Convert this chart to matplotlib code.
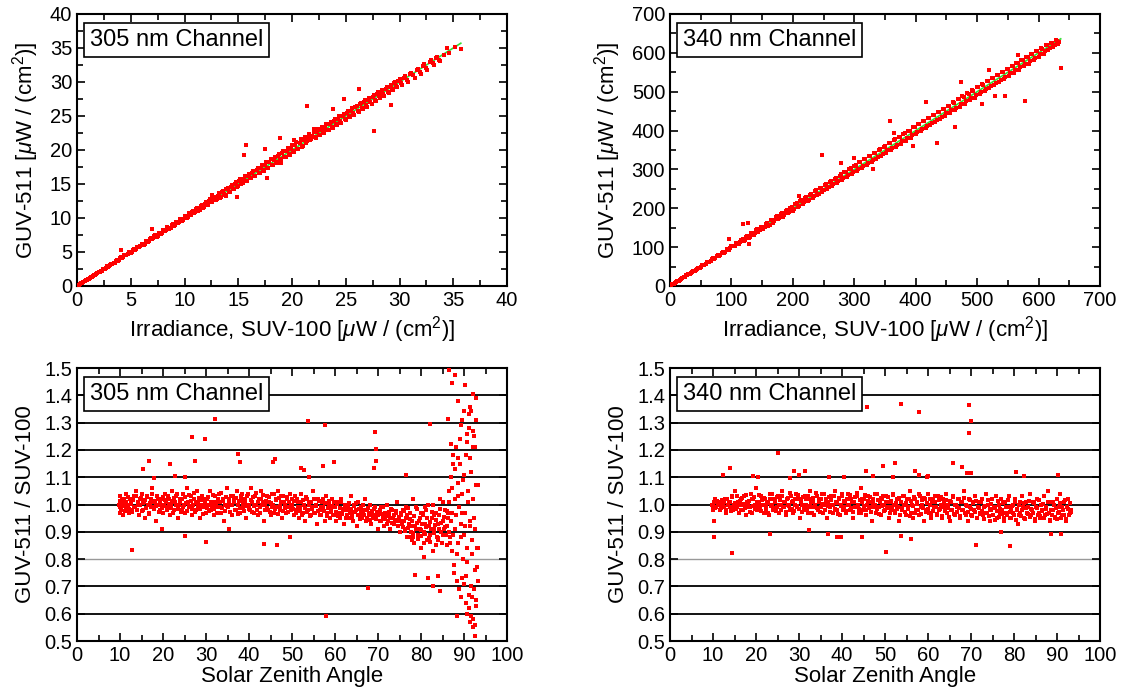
import numpy as np
import matplotlib
matplotlib.use("Agg")
import matplotlib.pyplot as plt
from matplotlib.ticker import MultipleLocator, FormatStrFormatter

plt.rcParams['font.family'] = ['Liberation Sans', 'DejaVu Sans']
plt.rcParams['mathtext.fontset'] = 'custom'
plt.rcParams['mathtext.rm'] = 'Liberation Sans'
plt.rcParams['mathtext.it'] = 'Liberation Sans:italic'

# ---- scatter, 305 nm: (SUV-100, GUV-511) irradiance ----
irr_305 = [(0.1, 0.1), (0.3, 0.3), (0.5, 0.5), (0.7, 0.7), (0.9, 0.9), (1.1, 1.1), (1.3, 1.35), (1.5, 1.5),
           (1.7, 1.65), (1.9, 1.95), (2.1, 2.1), (2.3, 2.25), (2.5, 2.55), (2.7, 2.7), (2.9, 2.85), (3.1, 3.15),
           (3.3, 3.3), (3.5, 3.45), (3.7, 3.8), (3.9, 3.85), (4.1, 4.2), (4.3, 4.25), (4.5, 4.6), (4.7, 4.65),
           (4.9, 5.0), (5.1, 5.05), (5.3, 5.4), (5.5, 5.45), (5.7, 5.8), (5.9, 5.85), (6.1, 6.2), (6.3, 6.2),
           (6.5, 6.6), (6.7, 6.65), (6.9, 7.0), (7.1, 7.0), (7.3, 7.45), (7.5, 7.4), (7.7, 7.8), (7.9, 7.75),
           (8.1, 8.25), (8.3, 8.2), (8.5, 8.6), (8.7, 8.6), (8.9, 9.05), (9.1, 8.95), (9.3, 9.45), (9.5, 9.35),
           (9.7, 9.8), (9.9, 9.7), (10.1, 10.3), (10.3, 10.1), (10.5, 10.6), (10.7, 10.9), (10.9, 10.7),
           (11.1, 11.3), (11.3, 11.1), (11.5, 11.7), (11.7, 11.5), (11.9, 12.1), (12.1, 11.9), (12.3, 12.5),
           (12.5, 12.3), (12.7, 12.9), (12.9, 12.6), (13.1, 13.3), (13.3, 13.0), (13.5, 13.8), (13.7, 13.5),
           (13.9, 14.2), (14.1, 13.8), (14.3, 14.5), (14.5, 14.3), (14.7, 15.0), (14.9, 14.6), (15.1, 15.4),
           (15.3, 15.0), (15.5, 15.8), (15.7, 15.4), (15.9, 16.2), (16.1, 15.9), (16.3, 16.6), (16.5, 16.2),
           (16.7, 17.0), (16.9, 16.6), (17.1, 17.4), (17.3, 17.1), (17.5, 17.8), (17.7, 17.4), (17.9, 18.3),
           (18.1, 17.8), (18.3, 18.6), (18.5, 18.2), (18.7, 19.1), (18.9, 18.7), (19.1, 19.5), (19.3, 19.0),
           (19.5, 19.9), (19.7, 19.4), (19.9, 20.2), (20.1, 19.8), (20.3, 20.7), (20.5, 20.2), (20.7, 21.1),
           (20.9, 20.5), (21.1, 21.4), (21.3, 21.0), (21.5, 21.9), (21.7, 21.4), (21.9, 22.1), (22.1, 21.9),
           (22.3, 22.6), (22.5, 22.2), (22.7, 23.0), (22.9, 22.6), (23.1, 23.3), (23.3, 23.0), (23.5, 23.8),
           (23.7, 23.4), (23.9, 24.3), (24.1, 23.8), (24.3, 24.6), (24.5, 24.2), (24.7, 25.0), (24.9, 24.6),
           (25.1, 25.4), (25.3, 25.0), (25.5, 25.8), (25.7, 25.5), (25.9, 26.3), (26.1, 25.8), (26.3, 26.7),
           (26.5, 26.2), (26.7, 27.0), (26.9, 26.6), (27.1, 27.4), (27.3, 27.0), (27.5, 27.8), (27.7, 27.4),
           (27.9, 28.2), (28.1, 27.9), (28.3, 28.5), (28.5, 28.2), (28.7, 28.9), (28.9, 28.6), (29.1, 29.3),
           (29.3, 29.0), (29.5, 29.8), (29.7, 29.4), (29.9, 30.2), (30.1, 29.9), (30.4, 30.6), (30.7, 30.3),
           (31.0, 31.2), (31.3, 31.0), (31.6, 31.8), (31.9, 31.5), (32.2, 32.3), (32.5, 32.1), (32.8, 33.0),
           (33.1, 32.8), (33.4, 33.5), (33.7, 33.2),
           (0.2, 0.18), (0.4, 0.43), (0.6, 0.58), (0.8, 0.83), (1.0, 0.97), (1.2, 1.24), (1.4, 1.38), (1.6, 1.66),
           (1.8, 1.77), (2.0, 2.06), (2.2, 2.17), (2.4, 2.46), (2.6, 2.55), (2.8, 2.87), (3.0, 2.94), (3.2, 3.28),
           (3.4, 3.36), (3.6, 3.71), (3.8, 3.73), (4.0, 4.12), (4.2, 4.14), (4.4, 4.52), (4.6, 4.55), (4.8, 4.93),
           (5.0, 4.92), (5.2, 5.35), (5.4, 5.31), (5.6, 5.74), (5.8, 5.72), (6.0, 6.16), (6.2, 6.08), (6.4, 6.57),
           (6.6, 6.51), (6.8, 6.97), (7.0, 6.88), (7.2, 7.38), (7.4, 7.27), (7.6, 7.79), (7.8, 7.66), (8.0, 8.21),
           (8.2, 8.06), (8.4, 8.63), (8.6, 8.45), (8.8, 9.04), (9.0, 8.86), (9.2, 9.42), (9.4, 9.24), (9.6, 9.88),
           (9.8, 9.61), (10.0, 10.27), (10.2, 10.02), (10.4, 10.71), (10.6, 10.38), (10.8, 11.08), (11.0, 10.81),
           (11.2, 11.52), (11.4, 11.16), (11.6, 11.93), (11.8, 11.57), (12.0, 12.36), (12.2, 11.98), (12.4, 12.74),
           (12.6, 12.31), (12.8, 13.14), (13.0, 12.72), (13.2, 13.61), (13.4, 13.12), (13.6, 13.95), (13.8, 13.44),
           (14.0, 14.42), (14.2, 13.86), (14.4, 14.84), (14.6, 14.22), (14.8, 15.27), (15.0, 14.67), (15.2, 15.71),
           (15.4, 15.08), (15.6, 16.12), (15.8, 15.44), (16.0, 16.51), (16.2, 15.82), (16.4, 16.93), (16.6, 16.23),
           (16.8, 17.36), (17.0, 16.58), (17.2, 17.82), (17.4, 16.94), (17.6, 18.19), (17.8, 17.36), (18.0, 18.63),
           (18.2, 17.74), (18.4, 19.02), (18.6, 18.13), (18.8, 19.44), (19.0, 18.52), (19.2, 19.88), (19.4, 18.94),
           (19.6, 20.31), (19.8, 19.33), (20.0, 20.72), (20.2, 19.76), (20.4, 21.14), (20.6, 20.18), (20.8, 21.56),
           (21.0, 20.62), (21.2, 21.98), (21.4, 21.31), (21.6, 22.42), (21.8, 21.55), (22.0, 22.68), (22.2, 21.82),
           (22.4, 23.04), (22.6, 22.14), (22.8, 23.41), (23.0, 22.51), (23.2, 23.82), (23.4, 22.87), (23.6, 24.18),
           (23.8, 23.22), (24.0, 24.56), (24.2, 23.63), (24.4, 24.97), (24.6, 24.02), (24.8, 25.36), (25.0, 24.41),
           (25.2, 25.72), (25.4, 24.79), (25.6, 26.14), (25.8, 25.18), (26.0, 26.52), (26.2, 25.56), (26.4, 26.91),
           (26.6, 25.97), (26.8, 27.32), (27.0, 26.38), (27.2, 27.71), (27.4, 26.79), (27.6, 28.09), (27.8, 27.18),
           (28.0, 28.46), (28.2, 27.61), (28.4, 28.82), (28.6, 27.97), (28.8, 29.21), (29.0, 28.43), (29.2, 29.58),
           (29.4, 28.77), (29.6, 29.98), (29.8, 29.21), (30.0, 30.37), (30.2, 29.62), (30.5, 30.82), (30.8, 30.05),
           (31.1, 31.38), (31.4, 30.64), (31.7, 31.94), (32.0, 31.22), (32.3, 32.58), (32.6, 31.83), (32.9, 33.21),
           (33.2, 32.44), (33.5, 33.71), (33.8, 33.08), (34.1, 34.02), (34.6, 34.3), (35.2, 35.1),
           (15.7, 20.7), (15.5, 19.2), (17.7, 15.9), (21.4, 26.4), (27.6, 22.8), (23.8, 26.1), (24.8, 27.5),
           (29.2, 26.6), (26.2, 28.9), (35.7, 34.8), (34.4, 35.0), (18.9, 21.8), (17.5, 20.2), (13.9, 13.2),
           (14.9, 13.1), (7.0, 8.4), (4.1, 5.3), (20.2, 21.4), (22.0, 23.1), (12.6, 13.4), (19.0, 18.1)]
fit_305 = ([0.0, 35.7], [0.0, 35.7])

# ---- scatter, 340 nm ----
irr_340 = [(2, 2), (6, 6), (10, 10), (14, 14), (18, 18), (22, 22), (26, 27), (30, 30), (34, 34), (38, 39),
           (42, 41), (46, 47), (50, 49), (54, 55), (58, 57), (62, 63), (66, 65), (70, 71), (74, 73), (78, 80),
           (82, 81), (86, 87), (90, 88), (94, 96), (98, 97), (102, 104), (106, 104), (110, 111), (114, 112),
           (118, 121), (122, 119), (126, 128), (130, 127), (134, 137), (138, 136), (142, 146), (146, 143),
           (150, 153), (154, 151), (158, 163), (162, 158), (166, 170), (170, 167), (174, 179), (178, 174),
           (182, 188), (186, 183), (190, 196), (194, 190), (198, 204), (202, 199), (206, 213), (210, 205),
           (214, 221), (218, 215), (222, 229), (226, 222), (230, 238), (234, 231), (238, 246), (242, 237),
           (246, 253), (250, 246), (254, 262), (258, 254), (262, 271), (266, 262), (270, 279), (274, 269),
           (278, 287), (282, 279), (286, 294), (290, 285), (294, 303), (298, 293), (302, 311), (306, 301),
           (310, 318), (314, 310), (318, 327), (322, 316), (326, 335), (330, 325), (334, 342), (338, 333),
           (342, 352), (346, 340), (350, 359), (354, 349), (358, 368), (362, 356), (366, 377), (370, 362),
           (374, 384), (378, 372), (382, 393), (386, 380), (390, 400), (394, 388), (398, 408), (402, 396),
           (406, 417), (410, 404), (414, 424), (418, 411), (422, 433), (426, 419), (430, 440), (434, 428),
           (438, 449), (442, 436), (446, 456), (450, 444), (454, 464), (458, 452), (462, 472), (466, 459),
           (470, 480), (474, 468), (478, 487), (482, 476), (486, 495), (490, 484), (494, 503), (498, 491),
           (502, 511), (506, 499), (510, 518), (514, 507), (518, 527), (522, 515), (526, 534), (530, 523),
           (534, 543), (538, 531), (542, 550), (546, 539), (550, 558), (554, 547), (558, 566), (562, 555),
           (566, 574), (570, 563), (574, 581), (578, 571), (582, 589), (586, 580), (590, 597), (594, 588),
           (598, 604), (602, 596), (606, 611), (610, 604), (614, 619), (618, 613), (622, 625), (626, 620),
           (630, 631), (633, 627),
           (4, 4.1), (8, 7.8), (12, 12.3), (16, 15.7), (20, 20.4), (24, 23.5), (28, 28.6), (32, 31.4), (36, 36.5),
           (40, 39.2), (44, 44.9), (48, 47.1), (52, 52.8), (56, 55.0), (60, 61.2), (64, 62.7), (68, 69.1),
           (72, 70.4), (76, 77.6), (80, 78.3), (84, 85.9), (88, 86.0), (92, 94.1), (96, 93.8), (100, 102.4),
           (104, 101.7), (108, 110.9), (112, 109.2), (116, 118.8), (120, 116.9), (124, 127.1), (128, 124.6),
           (132, 135.4), (136, 132.3), (140, 143.6), (144, 140.1), (148, 151.9), (152, 147.8), (156, 160.2),
           (160, 155.6), (164, 168.7), (168, 163.1), (172, 176.9), (176, 171.4), (180, 185.3), (184, 178.6),
           (188, 193.4), (192, 186.9), (196, 201.8), (200, 194.2), (204, 210.1), (208, 202.5), (212, 218.4),
           (216, 209.8), (220, 226.7), (224, 218.3), (228, 234.9), (232, 225.6), (236, 243.2), (240, 233.9),
           (244, 251.6), (248, 241.2), (252, 259.4), (256, 249.7), (260, 268.1), (264, 256.3), (268, 276.4),
           (272, 264.8), (276, 284.2), (280, 272.5), (284, 292.9), (288, 280.1), (292, 301.3), (296, 287.6),
           (300, 309.5), (304, 295.4), (308, 317.8), (312, 302.9), (316, 325.6), (320, 311.2), (324, 334.1),
           (328, 318.7), (332, 342.3), (336, 326.9), (340, 350.8), (344, 334.2), (348, 358.6), (352, 342.8),
           (356, 367.3), (360, 350.1), (364, 375.2), (368, 358.4), (372, 383.9), (376, 365.7), (380, 391.4),
           (384, 374.3), (388, 399.6), (392, 381.8), (396, 408.2), (400, 390.1), (404, 416.3), (408, 397.6),
           (412, 424.5), (416, 405.9), (420, 432.2), (424, 413.4), (428, 440.7), (432, 421.8), (436, 448.3),
           (440, 429.2), (444, 456.6), (448, 437.5), (452, 464.1), (456, 445.9), (460, 472.4), (464, 453.3),
           (468, 480.2), (472, 461.6), (476, 488.7), (480, 469.1), (484, 496.3), (488, 477.4), (492, 504.5),
           (496, 484.8), (500, 512.1), (504, 493.2), (508, 519.6), (512, 500.7), (516, 527.3), (520, 509.1),
           (524, 535.4), (528, 516.6), (532, 543.2), (536, 524.8), (540, 551.1), (544, 532.4), (548, 558.7),
           (552, 540.9), (556, 566.2), (560, 548.3), (564, 574.1), (568, 556.6), (572, 581.8), (576, 564.9),
           (580, 589.3), (584, 572.4), (588, 597.1), (592, 580.8), (596, 604.6), (600, 589.2), (604, 612.3),
           (608, 597.7), (612, 619.5), (616, 606.1), (620, 626.2), (624, 614.9), (628, 632.1), (632, 622.4),
           (247, 336), (637, 560), (578, 475), (508, 469), (464, 409), (417, 473), (358, 425), (545, 489),
           (529, 488), (127, 161), (118, 160), (96, 121), (128, 107), (435, 368), (278, 317), (473, 525),
           (567, 595), (365, 395), (395, 360), (300, 330), (330, 300), (210, 232), (520, 555)]
fit_340 = ([0.0, 636.0], [0.0, 636.0])

# ---- ratio vs solar zenith angle, 305 nm ----
ratio_305 = [(9.8, 1.00), (9.9, 0.97), (10.0, 1.03), (10.1, 0.99), (10.2, 1.01), (10.3, 0.98), (10.5, 1.02),
             (10.6, 1.00), (10.8, 0.96), (11.0, 1.01), (11.3, 1.04), (11.5, 0.99), (11.8, 1.00), (12.0, 0.97),
             (12.3, 1.02), (12.6, 1.01), (12.9, 0.98), (13.2, 1.03), (13.5, 0.99), (13.8, 1.05), (14.1, 1.00),
             (14.4, 0.96), (14.7, 1.02), (15.0, 1.04), (15.3, 0.98), (15.6, 1.01), (15.9, 0.95), (16.2, 1.03),
             (16.5, 1.00), (16.8, 0.97), (17.1, 1.02), (17.4, 1.06), (17.7, 0.99), (18.0, 1.01), (18.3, 0.94),
             (18.6, 1.03), (18.9, 1.00), (19.2, 0.98), (19.5, 1.02), (19.8, 1.00),
             (20.1, 0.97), (20.4, 1.04), (20.7, 1.01), (21.0, 0.99), (21.3, 1.02), (21.6, 0.96), (21.9, 1.00),
             (22.2, 1.05), (22.5, 0.98), (22.8, 1.01), (23.1, 1.03), (23.4, 0.95), (23.7, 1.00), (24.0, 1.02),
             (24.3, 0.98), (24.6, 1.04), (24.9, 1.00), (25.2, 0.97), (25.5, 1.06), (25.8, 1.01), (26.1, 0.99),
             (26.4, 1.03), (26.7, 0.96), (27.0, 1.00), (27.3, 1.02), (27.6, 0.98), (27.9, 1.05), (28.2, 1.01),
             (28.5, 0.95), (28.8, 1.00), (29.1, 1.03), (29.4, 0.99), (29.7, 1.01), (30.0, 0.97),
             (30.3, 1.02), (30.6, 1.00), (30.9, 1.05), (31.2, 0.98), (31.5, 1.01), (31.8, 0.96), (32.1, 1.03),
             (32.4, 1.00), (32.7, 0.99), (33.0, 1.04), (33.3, 1.01), (33.6, 0.97), (33.9, 1.02), (34.2, 0.94),
             (34.5, 1.00), (34.8, 1.06), (35.1, 0.99), (35.4, 1.02), (35.7, 1.00), (36.0, 0.96), (36.3, 1.03),
             (36.6, 1.01), (36.9, 0.98), (37.2, 1.05), (37.5, 1.00), (37.8, 0.97), (38.1, 1.02), (38.4, 1.04),
             (38.7, 0.99), (39.0, 1.01), (39.3, 0.95), (39.6, 1.03), (39.9, 1.00),
             (40.2, 0.98), (40.5, 1.06), (40.8, 1.01), (41.1, 0.97), (41.4, 1.03), (41.7, 1.00), (42.0, 0.96),
             (42.3, 1.02), (42.6, 0.99), (42.9, 1.05), (43.2, 1.01), (43.5, 0.94), (43.8, 1.00), (44.1, 1.03),
             (44.4, 0.98), (44.7, 1.01), (45.0, 0.96), (45.3, 1.04), (45.6, 1.00), (45.9, 0.97), (46.2, 1.02),
             (46.5, 0.99), (46.8, 1.05), (47.1, 0.98), (47.4, 1.01), (47.7, 0.95), (48.0, 1.03), (48.3, 1.00),
             (48.6, 0.97), (48.9, 1.02), (49.2, 0.99), (49.5, 1.04), (49.8, 0.98),
             (50.1, 1.00), (50.4, 0.96), (50.7, 1.03), (51.0, 0.98), (51.3, 1.01), (51.6, 0.95), (51.9, 0.99),
             (52.2, 1.04), (52.5, 0.97), (52.8, 1.00), (53.1, 0.94), (53.4, 1.02), (53.7, 0.98), (54.0, 1.01),
             (54.3, 0.96), (54.6, 0.99), (54.9, 1.05), (55.2, 0.97), (55.5, 1.00), (55.8, 0.93), (56.1, 1.02),
             (56.4, 0.98), (56.7, 0.96), (57.0, 1.01), (57.3, 0.99), (57.6, 0.94), (57.9, 1.03), (58.2, 0.97),
             (58.5, 1.00), (58.8, 0.95), (59.1, 0.98), (59.4, 1.02), (59.7, 0.96),
             (60.0, 0.99), (60.3, 0.94), (60.6, 1.01), (60.9, 0.97), (61.2, 0.95), (61.5, 1.02), (61.8, 0.98),
             (62.1, 0.93), (62.4, 1.00), (62.7, 0.96), (63.0, 0.99), (63.3, 0.95), (63.6, 1.03), (63.9, 0.97),
             (64.2, 0.94), (64.5, 1.00), (64.8, 0.98), (65.1, 0.92), (65.4, 1.01), (65.7, 0.96), (66.0, 0.99),
             (66.3, 0.95), (66.6, 0.97), (66.9, 1.02), (67.2, 0.94), (67.5, 0.98), (67.8, 0.96), (68.1, 1.00),
             (68.4, 0.93), (68.7, 0.97), (69.0, 0.95), (69.3, 0.99), (69.6, 0.96), (69.9, 0.91),
             (70.2, 0.97), (70.5, 0.94), (70.8, 0.99), (71.1, 0.95), (71.4, 0.92), (71.7, 0.97), (72.0, 1.00),
             (72.3, 0.94), (72.6, 0.96), (72.9, 0.91), (73.2, 0.98), (73.5, 0.95), (73.8, 0.93), (74.1, 0.97),
             (74.4, 1.01), (74.7, 0.94), (75.0, 0.90), (75.3, 0.96), (75.6, 0.93), (75.9, 0.98),
             (76.2, 0.91), (76.5, 0.95), (76.8, 0.88), (77.1, 0.93), (77.4, 0.97), (77.7, 0.90), (78.0, 0.94),
             (78.3, 0.86), (78.6, 0.92), (78.9, 0.99), (79.2, 0.89), (79.5, 0.94), (79.8, 0.91), (80.1, 0.84),
             (80.4, 0.96), (80.7, 0.90), (81.0, 0.93), (81.3, 0.87), (81.6, 1.00), (81.9, 0.92), (82.2, 0.89),
             (82.5, 0.95), (82.8, 0.83), (83.1, 0.91), (83.4, 0.97), (83.7, 0.88), (84.0, 0.93), (84.3, 1.02),
             (84.6, 0.90), (84.9, 0.86), (85.2, 0.94), (85.5, 0.98), (85.8, 0.89), (86.1, 0.92), (76.4, 0.99),
             (78.1, 1.02), (79.9, 0.97), (81.2, 0.98), (82.9, 1.00), (84.2, 0.96), (85.4, 0.91), (77.9, 0.87),
             (80.8, 0.86), (83.5, 0.85),
             (86.3, 0.95), (86.5, 1.05), (86.7, 0.88), (86.9, 1.10), (87.1, 0.83), (87.2, 0.97), (87.4, 1.18),
             (87.6, 0.78), (87.8, 1.02), (88.0, 0.91), (88.2, 1.21), (88.3, 0.72), (88.5, 1.08), (88.7, 0.86),
             (88.9, 0.99), (89.1, 1.15), (89.2, 0.66), (89.4, 0.93), (89.6, 1.04), (89.8, 0.80), (90.0, 1.11),
             (90.1, 0.89), (90.3, 0.97), (90.5, 0.74), (90.7, 1.23), (90.8, 0.84), (91.0, 1.01), (91.2, 0.62),
             (91.3, 0.92), (91.5, 1.17), (91.7, 0.70), (91.9, 0.87), (92.0, 1.27), (92.2, 0.58), (92.3, 0.95),
             (92.5, 0.76), (92.7, 1.07), (92.8, 0.65), (93.0, 0.84), (93.2, 0.72),
             (9.95, 1.012), (10.25, 0.987), (10.45, 1.006), (10.75, 0.993), (10.95, 1.021), (11.15, 0.978),
             (11.45, 1.009), (11.65, 0.996), (11.95, 1.027), (12.15, 0.984), (12.45, 1.003), (12.75, 0.971),
             (13.05, 1.015), (13.35, 0.992), (13.65, 1.032), (13.95, 0.981), (14.25, 1.011), (14.55, 0.998),
             (14.85, 1.024), (15.15, 0.975), (15.45, 1.006), (15.75, 1.018), (16.05, 0.989), (16.35, 1.029),
             (16.65, 0.967), (16.95, 1.004), (17.25, 0.991), (17.55, 1.037), (17.85, 0.982), (18.15, 1.013),
             (18.45, 0.996), (18.75, 1.021), (19.05, 0.973), (19.35, 1.008), (19.65, 0.986), (19.95, 1.026),
             (20.25, 0.994), (20.55, 1.017), (20.85, 0.979), (21.15, 1.031), (21.45, 1.002), (21.75, 0.988),
             (22.05, 1.014), (22.35, 0.969), (22.65, 1.023), (22.95, 0.997), (23.25, 1.038), (23.55, 0.983),
             (23.85, 1.009), (24.15, 0.974), (24.45, 1.019), (24.75, 0.992), (25.05, 1.028), (25.35, 1.005),
             (25.65, 0.977), (25.95, 1.034), (26.25, 0.996), (26.55, 1.012), (26.85, 0.985), (27.15, 1.043),
             (27.45, 0.971), (27.75, 1.007), (28.05, 0.993), (28.35, 1.025), (28.65, 0.982), (28.95, 1.016),
             (29.25, 0.964), (29.55, 1.021), (29.85, 1.002),
             (30.15, 0.988), (30.45, 1.029), (30.75, 0.975), (31.05, 1.011), (31.35, 0.996), (31.65, 1.036),
             (31.95, 0.983), (32.25, 1.008), (32.55, 0.969), (32.85, 1.022), (33.15, 0.991), (33.45, 1.041),
             (33.75, 0.986), (34.05, 1.014), (34.35, 0.977), (34.65, 1.027), (34.95, 0.994), (35.25, 1.009),
             (35.55, 0.972), (35.85, 1.033), (36.15, 0.998), (36.45, 1.018), (36.75, 0.981), (37.05, 1.024),
             (37.35, 0.967), (37.65, 1.012), (37.95, 0.989), (38.25, 1.031), (38.55, 1.004), (38.85, 0.976),
             (39.15, 1.019), (39.45, 0.993), (39.75, 1.039),
             (40.05, 0.984), (40.35, 1.016), (40.65, 0.972), (40.95, 1.027), (41.25, 0.995), (41.55, 1.044),
             (41.85, 0.981), (42.15, 1.009), (42.45, 0.968), (42.75, 1.021), (43.05, 0.997), (43.35, 1.035),
             (43.65, 0.979), (43.95, 1.013), (44.25, 0.988), (44.55, 1.028), (44.85, 0.973), (45.15, 1.006),
             (45.45, 0.992), (45.75, 1.037), (46.05, 0.984), (46.35, 1.015), (46.65, 0.966), (46.95, 1.023),
             (47.25, 0.995), (47.55, 1.032), (47.85, 0.978), (48.15, 1.008), (48.45, 0.987), (48.75, 1.026),
             (49.05, 0.971), (49.35, 1.011), (49.65, 0.994), (49.95, 1.019),
             (50.25, 0.983), (50.55, 1.012), (50.85, 0.968), (51.15, 1.021), (51.45, 0.992), (51.75, 0.975),
             (52.05, 1.008), (52.35, 0.961), (52.65, 1.017), (52.95, 0.987), (53.25, 1.026), (53.55, 0.972),
             (53.85, 0.998), (54.15, 0.957), (54.45, 1.011), (54.75, 0.984), (55.05, 1.022), (55.35, 0.969),
             (55.65, 0.995), (55.95, 0.978), (56.25, 1.014), (56.55, 0.963), (56.85, 0.991), (57.15, 1.019),
             (57.45, 0.976), (57.75, 1.004), (58.05, 0.958), (58.35, 0.989), (58.65, 1.012), (58.95, 0.971),
             (59.25, 0.996), (59.55, 0.962), (59.85, 1.008),
             (60.15, 0.972), (60.45, 1.003), (60.75, 0.958), (61.05, 0.987), (61.35, 1.011), (61.65, 0.964),
             (61.95, 0.982), (62.25, 0.996), (62.55, 0.951), (62.85, 0.979), (63.15, 1.007), (63.45, 0.968),
             (63.75, 0.985), (64.05, 0.955), (64.35, 0.993), (64.65, 0.971), (64.95, 1.004), (65.25, 0.961),
             (65.55, 0.983), (65.85, 0.947), (66.15, 0.977), (66.45, 0.998), (66.75, 0.963), (67.05, 0.981),
             (67.35, 0.952), (67.65, 0.989), (67.95, 0.968), (68.25, 0.942), (68.55, 0.976), (68.85, 0.959),
             (69.15, 0.985), (69.45, 0.948), (69.75, 0.971),
             (70.05, 0.962), (70.35, 0.981), (70.65, 0.938), (70.95, 0.967), (71.25, 0.991), (71.55, 0.946),
             (71.85, 0.959), (72.15, 0.928), (72.45, 0.973), (72.75, 0.951), (73.05, 0.984), (73.35, 0.932),
             (73.65, 0.961), (73.95, 0.944), (74.25, 0.977), (74.55, 0.921), (74.85, 0.956), (75.15, 0.939),
             (75.45, 0.968), (75.75, 0.917),
             (76.05, 0.938), (76.35, 0.902), (76.65, 0.961), (76.95, 0.915), (77.25, 0.882), (77.55, 0.947),
             (77.85, 0.923), (78.15, 0.896), (78.45, 0.958), (78.75, 0.911), (79.05, 0.934), (79.35, 0.872),
             (79.65, 0.949), (79.95, 0.905), (80.25, 0.927), (80.55, 0.968), (80.85, 0.893), (81.15, 0.916),
             (81.45, 0.951), (81.75, 0.878), (82.05, 0.937), (82.35, 0.909), (82.65, 0.972), (82.95, 0.894),
             (83.25, 0.926), (83.55, 0.945), (83.85, 0.869), (84.15, 0.912), (84.45, 0.983), (84.75, 0.931),
             (85.05, 0.887), (85.35, 0.956), (85.65, 0.918), (85.95, 0.975), (76.1, 0.976), (77.0, 0.989),
             (78.2, 0.881), (79.0, 0.983), (80.0, 0.884), (81.0, 0.992), (82.0, 0.862), (83.0, 0.961),
             (84.0, 0.876), (85.0, 1.008), (86.0, 0.852),
             (86.2, 0.97), (86.4, 0.90), (86.6, 1.01), (86.8, 0.86), (87.0, 0.94), (87.3, 1.06), (87.5, 0.89),
             (87.7, 0.75), (87.9, 1.13), (88.1, 0.96), (88.4, 0.82), (88.6, 1.03), (88.8, 0.69), (89.0, 1.24),
             (89.3, 0.88), (89.5, 0.97), (89.7, 1.09), (89.9, 0.71), (90.2, 0.92), (90.4, 1.18), (90.6, 0.79),
             (90.9, 1.05), (91.1, 0.67), (91.4, 0.94), (91.6, 1.12), (91.8, 0.82), (92.1, 1.02), (92.4, 0.69),
             (92.6, 0.91), (92.9, 1.31), (93.1, 0.77), (93.3, 1.07), (92.2, 1.21), (91.2, 1.33), (90.6, 1.26),
             (89.4, 1.29), (88.7, 1.17), (87.5, 1.15), (86.9, 1.22), (92.5, 0.56), (91.6, 0.59), (90.4, 0.64),
             (89.6, 0.73),
             (12.8, 0.833), (32.0, 1.313), (26.8, 1.249), (29.8, 1.239), (27.4, 1.160), (16.7, 1.160),
             (15.4, 1.130), (21.6, 1.150), (18.0, 1.097), (22.8, 1.105), (25.1, 1.100), (25.0, 0.886),
             (29.9, 0.864), (19.7, 0.911), (35.3, 0.910), (37.5, 1.184), (38.0, 1.154), (43.6, 0.855),
             (46.6, 0.851), (45.6, 1.154), (46.1, 1.167), (49.5, 0.880), (53.7, 1.305), (52.0, 1.135),
             (52.8, 1.127), (53.9, 1.100), (57.2, 1.141), (57.6, 1.292), (57.8, 0.592), (59.7, 1.155),
             (69.2, 1.266), (69.6, 1.203), (69.5, 1.159), (69.1, 1.135), (67.6, 0.696), (76.5, 1.108),
             (78.6, 0.741), (80.6, 0.806), (82.2, 1.296), (81.7, 0.731), (82.7, 0.703), (83.9, 0.739),
             (84.5, 0.682), (86.2, 1.313), (86.4, 1.494), (87.9, 1.476), (87.2, 1.447), (90.2, 1.439),
             (88.5, 1.380), (92.1, 1.406), (92.8, 1.392), (89.6, 1.308), (90.0, 1.341), (91.3, 1.357),
             (91.7, 1.343), (92.3, 1.250), (92.6, 1.210), (91.1, 1.280), (92.0, 0.550), (92.5, 0.520),
             (91.5, 0.570), (90.8, 0.600), (88.4, 0.590), (92.7, 0.630), (91.9, 0.660), (93.2, 0.840)]

# ---- ratio vs solar zenith angle, 340 nm ----
ratio_340 = [(9.8, 1.00), (10.1, 0.98), (10.4, 1.02), (10.7, 0.99), (11.0, 1.01), (11.3, 1.00), (11.6, 0.98),
             (11.9, 1.01), (12.2, 1.00), (12.5, 0.99), (12.8, 1.02), (13.1, 0.97), (13.4, 1.00), (13.7, 1.01),
             (14.0, 0.99), (14.3, 1.03), (14.6, 0.98), (14.9, 1.00), (15.2, 1.05), (15.5, 0.99), (15.8, 1.01),
             (16.1, 0.97), (16.4, 1.02), (16.7, 1.00), (17.0, 0.98), (17.3, 1.03), (17.6, 0.96), (17.9, 1.01),
             (18.2, 1.00), (18.5, 0.99), (18.8, 1.04), (19.1, 0.97), (19.4, 1.02), (19.7, 1.00), (20.0, 1.06),
             (20.3, 0.98), (20.6, 1.01), (20.9, 0.99), (21.2, 1.03), (21.5, 1.00), (21.8, 0.97), (22.1, 1.02),
             (22.4, 0.99), (22.7, 1.01), (23.0, 0.96), (23.3, 1.04), (23.6, 1.00), (23.9, 0.98), (24.2, 1.02),
             (24.5, 1.01), (24.8, 0.99), (25.1, 1.03), (25.4, 0.97), (25.7, 1.00), (26.0, 1.05), (26.3, 0.99),
             (26.6, 1.01), (26.9, 0.96), (27.2, 1.02), (27.5, 1.00), (27.8, 0.98), (28.1, 1.03), (28.4, 1.01),
             (28.7, 0.97), (29.0, 1.00), (29.3, 1.04), (29.6, 0.99), (29.9, 1.02), (30.2, 0.95), (30.5, 1.01),
             (30.8, 1.00), (31.1, 0.98), (31.4, 1.03), (31.7, 1.00), (32.0, 0.97), (32.3, 1.02), (32.6, 1.05),
             (32.9, 0.99), (33.2, 1.01), (33.5, 0.96), (33.8, 1.00), (34.1, 1.03), (34.4, 0.98), (34.7, 1.01),
             (35.0, 0.99), (35.3, 1.04), (35.6, 0.97), (35.9, 1.00), (36.2, 1.02), (36.5, 0.95), (36.8, 1.01),
             (37.1, 0.99), (37.4, 1.03), (37.7, 1.00), (38.0, 0.97), (38.3, 1.05), (38.6, 1.01), (38.9, 0.98),
             (39.2, 1.02), (39.5, 0.96), (39.8, 1.00), (40.1, 1.03), (40.4, 0.99), (40.7, 1.01), (41.0, 0.97),
             (41.3, 1.04), (41.6, 1.00), (41.9, 0.98), (42.2, 1.02), (42.5, 0.95), (42.8, 1.01), (43.1, 0.99),
             (43.4, 1.03), (43.7, 1.00), (44.0, 0.97), (44.3, 1.06), (44.6, 1.01), (44.9, 0.98), (45.2, 1.02),
             (45.5, 0.96), (45.8, 1.00), (46.1, 1.03), (46.4, 0.99), (46.7, 1.01), (47.0, 0.94), (47.3, 1.02),
             (47.6, 1.00), (47.9, 0.97), (48.2, 1.04), (48.5, 0.99), (48.8, 1.01), (49.1, 0.96), (49.4, 1.02),
             (49.7, 1.00), (50.0, 0.98), (50.3, 1.03), (50.6, 0.99), (50.9, 0.95), (51.2, 1.01), (51.5, 0.98),
             (51.8, 1.04), (52.1, 1.00), (52.4, 0.97), (52.7, 1.02), (53.0, 0.99), (53.3, 0.94), (53.6, 1.01),
             (53.9, 0.98), (54.2, 1.03), (54.5, 1.00), (54.8, 0.96), (55.1, 1.02), (55.4, 0.99), (55.7, 1.05),
             (56.0, 0.97), (56.3, 1.00), (56.6, 0.95), (56.9, 1.02), (57.2, 0.98), (57.5, 1.01), (57.8, 0.96),
             (58.1, 1.03), (58.4, 0.99), (58.7, 1.00), (59.0, 0.94), (59.3, 1.02), (59.6, 0.98), (59.9, 1.04),
             (60.2, 0.97), (60.5, 1.00), (60.8, 0.95), (61.1, 1.02), (61.4, 0.99), (61.7, 1.01), (62.0, 0.96),
             (62.3, 1.03), (62.6, 0.98), (62.9, 1.00), (63.2, 0.95), (63.5, 1.02), (63.8, 0.99), (64.1, 1.04),
             (64.4, 0.97), (64.7, 1.00), (65.0, 0.94), (65.3, 1.01), (65.6, 0.98), (65.9, 1.03), (66.2, 0.96),
             (66.5, 1.00), (66.8, 0.99), (67.1, 1.02), (67.4, 0.95), (67.7, 1.01), (68.0, 0.98), (68.3, 1.05),
             (68.6, 0.97), (68.9, 1.00), (69.2, 0.94), (69.5, 1.02), (69.8, 0.99), (70.1, 0.96), (70.4, 1.01),
             (70.7, 0.98), (71.0, 1.03), (71.3, 0.95), (71.6, 0.99), (71.9, 1.01), (72.2, 0.97), (72.5, 1.02),
             (72.8, 0.96), (73.1, 0.99), (73.4, 1.04), (73.7, 0.97), (74.0, 1.00), (74.3, 0.94), (74.6, 0.98),
             (74.9, 1.02), (75.2, 0.96), (75.5, 0.99), (75.8, 1.03), (76.1, 0.95), (76.4, 1.00), (76.7, 0.97),
             (77.0, 1.02), (77.3, 0.98), (77.6, 0.94), (77.9, 1.01), (78.2, 0.97), (78.5, 0.99), (78.8, 1.03),
             (79.1, 0.95), (79.4, 0.98), (79.7, 1.00), (80.0, 0.96), (80.3, 1.02), (80.6, 0.98), (80.9, 0.93),
             (81.2, 1.00), (81.5, 0.97), (81.8, 1.03), (82.1, 0.99), (82.4, 0.95), (82.7, 1.01), (83.0, 0.97),
             (83.3, 0.99), (83.6, 1.04), (83.9, 0.96), (84.2, 0.98), (84.5, 1.01), (84.8, 0.94), (85.1, 0.99),
             (85.4, 1.02), (85.7, 0.97), (86.0, 0.95), (86.3, 1.00), (86.6, 0.98), (86.9, 1.03), (87.2, 0.96),
             (87.5, 0.99), (87.8, 1.05), (88.1, 0.97), (88.4, 0.94), (88.7, 1.01), (89.0, 0.98), (89.3, 1.00),
             (89.6, 0.95), (89.9, 1.02), (90.2, 0.97), (90.5, 0.99), (90.8, 1.04), (91.1, 0.96), (91.4, 0.98),
             (91.7, 1.01), (92.0, 0.94), (92.3, 0.99), (92.6, 1.02), (92.9, 0.97), (93.2, 0.98),
             (9.95, 0.995), (10.25, 1.008), (10.55, 0.989), (10.85, 1.013), (11.15, 0.997), (11.45, 1.004),
             (11.75, 0.986), (12.05, 1.017), (12.35, 0.993), (12.65, 1.009), (12.95, 0.981), (13.25, 1.021),
             (13.55, 0.998), (13.85, 1.011), (14.15, 0.976), (14.45, 1.027), (14.75, 0.992), (15.05, 1.006),
             (15.35, 0.983), (15.65, 1.032), (15.95, 0.997), (16.25, 1.014), (16.55, 0.979), (16.85, 1.023),
             (17.15, 1.003), (17.45, 0.987), (17.75, 1.036), (18.05, 0.991), (18.35, 1.012), (18.65, 0.974),
             (18.95, 1.019), (19.25, 0.996), (19.55, 1.028), (19.85, 0.984),
             (20.15, 1.011), (20.45, 0.993), (20.75, 1.034), (21.05, 0.977), (21.35, 1.016), (21.65, 0.998),
             (21.95, 1.025), (22.25, 0.982), (22.55, 1.007), (22.85, 0.969), (23.15, 1.021), (23.45, 0.994),
             (23.75, 1.038), (24.05, 0.986), (24.35, 1.013), (24.65, 0.975), (24.95, 1.026), (25.25, 0.999),
             (25.55, 1.018), (25.85, 0.981), (26.15, 1.031), (26.45, 0.992), (26.75, 1.009), (27.05, 0.972),
             (27.35, 1.024), (27.65, 0.996), (27.95, 1.041), (28.25, 0.985), (28.55, 1.014), (28.85, 0.978),
             (29.15, 1.022), (29.45, 0.993), (29.75, 1.035),
             (30.05, 0.983), (30.35, 1.012), (30.65, 0.971), (30.95, 1.027), (31.25, 0.996), (31.55, 1.019),
             (31.85, 0.982), (32.15, 1.033), (32.45, 0.994), (32.75, 1.008), (33.05, 0.968), (33.35, 1.024),
             (33.65, 0.991), (33.95, 1.042), (34.25, 0.987), (34.55, 1.015), (34.85, 0.974), (35.15, 1.021),
             (35.45, 1.002), (35.75, 1.037), (36.05, 0.979), (36.35, 1.011), (36.65, 0.993), (36.95, 1.028),
             (37.25, 0.972), (37.55, 1.016), (37.85, 0.998), (38.15, 1.032), (38.45, 0.984), (38.75, 1.007),
             (39.05, 0.966), (39.35, 1.025), (39.65, 0.995),
             (39.95, 1.039), (40.25, 0.981), (40.55, 1.013), (40.85, 0.975), (41.15, 1.022), (41.45, 0.997),
             (41.75, 1.034), (42.05, 0.986), (42.35, 1.009), (42.65, 0.971), (42.95, 1.027), (43.25, 0.992),
             (43.55, 1.044), (43.85, 0.983), (44.15, 1.016), (44.45, 0.968), (44.75, 1.021), (45.05, 0.994),
             (45.35, 1.036), (45.65, 0.979), (45.95, 1.012), (46.25, 0.987), (46.55, 1.029), (46.85, 0.973),
             (47.15, 1.006), (47.45, 0.991), (47.75, 1.038), (48.05, 0.982), (48.35, 1.015), (48.65, 0.964),
             (48.95, 1.024), (49.25, 0.996), (49.55, 1.031), (49.85, 0.977),
             (50.15, 1.009), (50.45, 0.986), (50.75, 1.027), (51.05, 0.968), (51.35, 1.014), (51.65, 0.992),
             (51.95, 1.035), (52.25, 0.975), (52.55, 1.006), (52.85, 0.983), (53.15, 1.023), (53.45, 0.961),
             (53.75, 1.011), (54.05, 0.989), (54.35, 1.032), (54.65, 0.972), (54.95, 1.004), (55.25, 0.984),
             (55.55, 1.019), (55.85, 0.958), (56.15, 1.013), (56.45, 0.993), (56.75, 1.028), (57.05, 0.969),
             (57.35, 1.002), (57.65, 0.981), (57.95, 1.037), (58.25, 0.966), (58.55, 1.015), (58.85, 0.988),
             (59.15, 1.024), (59.45, 0.973), (59.75, 1.006),
             (60.05, 0.985), (60.35, 1.021), (60.65, 0.962), (60.95, 1.009), (61.25, 0.978), (61.55, 1.033),
             (61.85, 0.991), (62.15, 0.967), (62.45, 1.016), (62.75, 0.983), (63.05, 1.027), (63.35, 0.959),
             (63.65, 1.004), (63.95, 0.976), (64.25, 1.018), (64.55, 0.989), (64.85, 0.954), (65.15, 1.012),
             (65.45, 0.981), (65.75, 1.029), (66.05, 0.965), (66.35, 0.997), (66.65, 0.973), (66.95, 1.022),
             (67.25, 0.986), (67.55, 0.957), (67.85, 1.008), (68.15, 0.979), (68.45, 1.025), (68.75, 0.962),
             (69.05, 0.994), (69.35, 0.971), (69.65, 1.017), (69.95, 0.983),
             (70.25, 0.958), (70.55, 1.005), (70.85, 0.972), (71.15, 1.014), (71.45, 0.951), (71.75, 0.987),
             (72.05, 0.964), (72.35, 1.009), (72.65, 0.978), (72.95, 0.946), (73.25, 0.993), (73.55, 0.968),
             (73.85, 1.018), (74.15, 0.957), (74.45, 0.984), (74.75, 1.003), (75.05, 0.961), (75.35, 0.989),
             (75.65, 0.943), (75.95, 0.976), (76.25, 1.012), (76.55, 0.955), (76.85, 0.983), (77.15, 0.967),
             (77.45, 1.006), (77.75, 0.949), (78.05, 0.991), (78.35, 0.962), (78.65, 1.015), (78.95, 0.974),
             (79.25, 0.952), (79.55, 0.996), (79.85, 0.968), (80.15, 1.008), (80.45, 0.945), (80.75, 0.983),
             (81.05, 0.961), (81.35, 1.011), (81.65, 0.957), (81.95, 0.979), (82.25, 1.004), (82.55, 0.948),
             (82.85, 0.986), (83.15, 0.965), (83.45, 1.013), (83.75, 0.953), (84.05, 0.982), (84.35, 0.969),
             (84.65, 1.007), (84.95, 0.947), (85.25, 0.988), (85.55, 0.962), (85.85, 1.016), (86.15, 0.958),
             (86.45, 0.977), (86.75, 1.002), (87.05, 0.951), (87.35, 0.984), (87.65, 0.967), (87.95, 1.011),
             (88.25, 0.944), (88.55, 0.979), (88.85, 0.961), (89.15, 1.009), (89.45, 0.956), (89.75, 0.987),
             (90.05, 0.948), (90.35, 0.973), (90.65, 1.006), (90.95, 0.952), (91.25, 0.991), (91.55, 0.963),
             (91.85, 1.017), (92.15, 0.946), (92.45, 0.982), (92.75, 0.961), (93.05, 1.004), (93.3, 0.972),
             (14.4, 0.821), (10.3, 0.882), (10.3, 0.940), (13.9, 1.134), (12.4, 1.110), (25.2, 1.190),
             (23.2, 0.893), (45.7, 1.359), (53.8, 1.368), (58.0, 1.340), (69.6, 1.364), (69.9, 1.307),
             (69.5, 1.263), (65.8, 1.151), (68.0, 1.139), (69.1, 1.117), (70.1, 1.117), (52.4, 1.151),
             (49.5, 1.140), (45.6, 1.124), (50.3, 0.827), (56.1, 0.872), (53.8, 0.883), (44.6, 0.882),
             (38.9, 0.882), (39.7, 0.882), (36.8, 0.892), (32.3, 0.906), (71.1, 0.852), (79.0, 0.849),
             (77.0, 0.900), (80.5, 1.118), (82.4, 1.106), (88.6, 0.893), (91.0, 0.892), (90.2, 1.108),
             (57.0, 1.122), (60.1, 1.105), (28.8, 1.124), (31.3, 1.124), (30.0, 1.108), (19.2, 1.105),
             (20.5, 1.100), (28.0, 1.096), (37.0, 1.100), (40.5, 1.100), (47.3, 1.105), (51.8, 1.102),
             (59.7, 1.100), (57.8, 1.110)]

fig = plt.figure(figsize=(11.21, 6.96), dpi=100)
W = 0.3836
ax_tl = fig.add_axes([0.0687, 0.5891, W, 0.3908])
ax_tr = fig.add_axes([0.5977, 0.5891, W, 0.3908])
ax_bl = fig.add_axes([0.0687, 0.0790, W, 0.3922])
ax_br = fig.add_axes([0.5977, 0.0790, W, 0.3922])

FS = 14.5
LFS = 16
dot = dict(ls='none', marker='s', ms=2.4, mew=0, color='red', zorder=3)


def style(ax):
    ax.tick_params(which='both', direction='in', top=True, right=True, labelsize=FS, width=1.2)
    ax.tick_params(which='major', length=6)
    ax.tick_params(which='minor', length=4)
    for s in ax.spines.values():
        s.set_linewidth(1.5)


def label_box(ax, text, y):
    ax.text(0.03, y, text, transform=ax.transAxes, fontsize=17, va='top', ha='left', zorder=5,
            bbox=dict(boxstyle='square,pad=0.25', fc='white', ec='black', lw=1.2))


# top panels
for ax, pts, fit, lim, step, name in [(ax_tl, irr_305, fit_305, 40, 5, '305 nm Channel'),
                                      (ax_tr, irr_340, fit_340, 700, 100, '340 nm Channel')]:
    x, y = zip(*pts)
    ax.plot(fit[0], fit[1], color='#33dd33', lw=1.2, zorder=2)
    ax.plot(x, y, **dot)
    ax.set_xlim(0, lim)
    ax.set_ylim(0, lim)
    ax.xaxis.set_major_locator(MultipleLocator(step))
    ax.yaxis.set_major_locator(MultipleLocator(step))
    ax.xaxis.set_minor_locator(MultipleLocator(step / 2))
    ax.yaxis.set_minor_locator(MultipleLocator(step / 2))
    ax.set_xlabel(r'Irradiance, SUV-100 [$\mu$W / (cm$^2$)]', fontsize=LFS, labelpad=3)
    ax.set_ylabel(r'GUV-511 [$\mu$W / (cm$^2$)]', fontsize=LFS, labelpad=6)
    style(ax)
    label_box(ax, name, 0.945)

# bottom panels
for ax, pts, name in [(ax_bl, ratio_305, '305 nm Channel'), (ax_br, ratio_340, '340 nm Channel')]:
    x, y = zip(*pts)
    for g in [0.6, 0.7, 0.9, 1.0, 1.1, 1.2, 1.3, 1.4]:
        ax.axhline(g, color='black', lw=1.3, zorder=1)
    ax.axhline(0.8, color='#999999', lw=1.0, zorder=1)
    ax.plot(x, y, **dot)
    ax.set_xlim(0, 100)
    ax.set_ylim(0.5, 1.5)
    ax.xaxis.set_major_locator(MultipleLocator(10))
    ax.xaxis.set_minor_locator(MultipleLocator(5))
    ax.yaxis.set_major_locator(MultipleLocator(0.1))
    ax.yaxis.set_major_formatter(FormatStrFormatter('%.1f'))
    ax.set_xlabel('Solar Zenith Angle', fontsize=LFS, labelpad=1)
    ax.set_ylabel('GUV-511 / SUV-100', fontsize=LFS, labelpad=6)
    style(ax)
    label_box(ax, name, 0.945)

fig.savefig('out.png', dpi=100)
